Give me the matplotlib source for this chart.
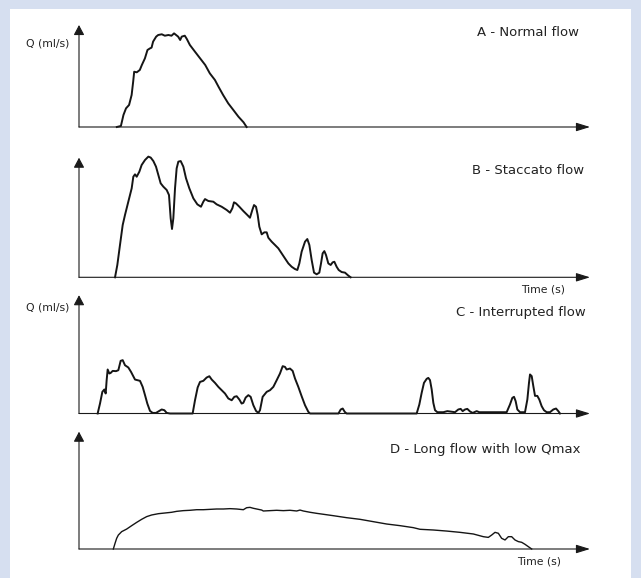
import matplotlib
matplotlib.use("Agg")
import matplotlib.pyplot as plt
from matplotlib.patches import Rectangle, ArrowStyle

# ---------------- data (time in arbitrary units 0-100, flow Q in % of axis height) -------------
titles = ["A - Normal flow", "B - Staccato flow", "C - Interrupted flow", "D - Long flow with low Qmax"]
y_label = "Q (ml/s)"
x_label = "Time (s)"

a_t = [7.4, 8.2, 8.7, 9.2, 9.8, 10.3, 10.6, 10.8, 11.3, 11.9, 12.3, 12.9, 13.4, 13.9, 14.2, 14.5,
       15.1, 15.5, 16.2, 16.8, 17.5, 18.1, 18.6, 19.0, 19.4, 19.8, 20.1, 20.7, 21.1, 21.7, 22.7,
       23.7, 24.7, 25.6, 26.6, 27.3, 28.2, 29.2, 30.2, 31.2, 32.2, 32.8]
a_q = [0, 1, 11.8, 18.3, 21.6, 31.4, 44.4, 54.2, 53.6, 55.9, 60.8, 67.3, 75.5, 77.1, 77.8, 83.7,
       88.6, 90.2, 90.9, 89.5, 90.2, 89.5, 91.8, 90.2, 88.6, 85.3, 88.6, 89.5, 86.3, 80.4, 73.8,
       67.3, 60.8, 52.6, 46.1, 39.5, 31.4, 23.2, 16.7, 10.1, 4.6, 0]

b_t = [7.05, 7.50, 8.02, 8.55, 9.00, 9.65, 10.31, 10.63, 10.96, 11.29, 11.81, 12.26, 12.92, 13.57,
       14.03, 14.55, 15.07, 15.53, 15.98, 16.50, 17.16, 17.61, 17.94, 18.20, 18.46, 18.79, 19.11,
       19.44, 19.90, 20.42, 20.94, 21.59, 22.38, 23.16, 23.87, 24.33, 24.66, 25.31, 26.29, 26.94,
       27.92, 28.90, 29.55, 30.01, 30.33, 30.72, 31.38, 32.16, 32.94, 33.46, 33.92, 34.25, 34.64,
       34.97, 35.29, 35.75, 36.27, 36.73, 37.05, 37.70, 38.36, 39.01, 39.66, 40.31, 40.97, 41.62,
       42.27, 42.73, 43.12, 43.57, 44.23, 44.68, 45.08, 45.53, 45.99, 46.51, 47.03, 47.36, 47.68,
       48.01, 48.34, 48.79, 49.25, 49.64, 49.97, 50.42, 50.82, 51.40, 52.05, 52.71, 53.16]
b_q = [0, 10.3, 27.0, 43.7, 52.1, 63.2, 74.4, 84.1, 86.1, 84.1, 88.3, 93.9, 98.1, 100.9, 100.1,
       97.2, 92.5, 85.5, 78.6, 75.8, 73.0, 68.8, 49.3, 40.4, 49.3, 74.4, 91.1, 96.7, 97.2, 92.5,
       82.8, 74.4, 66.0, 61.0, 59.0, 63.2, 65.4, 63.8, 63.2, 61.0, 59.0, 56.3, 54.0, 57.7, 62.7,
       61.8, 59.0, 55.4, 52.1, 49.8, 56.3, 60.4, 59.0, 52.1, 42.3, 35.9, 37.6, 37.6, 33.1, 29.8,
       27.0, 24.2, 20.0, 15.8, 11.6, 8.8, 6.9, 6.1, 11.6, 21.4, 29.8, 32.0, 27.0, 14.5, 3.9, 2.5,
       3.9, 11.6, 20.0, 21.9, 18.6, 11.6, 10.3, 12.5, 13.0, 8.8, 6.1, 4.4, 3.9, 1.4, 0]

c_t = [3.65, 4.11, 4.57, 4.96, 5.22, 5.41, 5.61, 5.94, 6.20, 6.59, 7.24, 7.70, 8.15, 8.55, 9.00,
       9.65, 10.18, 10.96, 11.94, 12.46, 12.92, 13.37, 13.89, 14.42, 15.07, 15.72, 16.18, 16.70,
       17.16, 17.81, 22.24, 22.70, 23.22, 23.68, 24.33, 24.98, 25.51, 25.97, 26.61, 27.27, 27.92,
       28.57, 29.22, 29.88, 30.40, 30.86, 31.38, 31.83, 32.16, 32.62, 33.14, 33.59, 34.12, 34.64,
       35.10, 35.42, 35.94, 36.73, 37.38, 38.03, 38.68, 39.33, 39.86, 40.31, 40.64, 41.29, 41.81,
       42.27, 42.92, 43.57, 44.23, 44.88, 45.21, 50.77, 51.22, 51.61, 52.00, 52.37,
       66.08, 66.60, 67.06, 67.51, 68.04, 68.36, 68.69, 69.02, 69.34, 69.67, 70.13, 71.30, 72.08,
       72.60, 73.58, 74.23, 74.69, 75.08, 75.54, 75.99, 76.52, 77.04, 77.82, 78.34, 83.69, 84.34,
       84.80, 85.13, 85.45, 85.78, 86.30, 87.28, 87.74, 88.06, 88.26, 88.59, 88.91, 89.24, 89.69,
       90.08, 90.54, 90.99, 91.52, 92.17, 92.82, 93.35, 93.80, 94.13]
c_q = [0, 8.4, 18.3, 20.3, 16.9, 28.1, 37.2, 33.8, 34.3, 36.0, 35.8, 36.6, 44.5, 45.1, 40.8,
       38.9, 35.2, 28.7, 27.6, 22.5, 15.5, 8.4, 2.2, 0.5, 0.5, 2.2, 3.4, 2.8, 0.5, 0, 0, 11.2,
       22.0, 26.7, 27.6, 30.4, 31.5, 28.7, 25.9, 22.5, 19.7, 16.9, 12.7, 11.2, 14.1, 14.6, 11.8,
       8.4, 9.0, 13.5, 15.5, 14.1, 7.0, 2.2, 0.5, 2.8, 14.1, 18.3, 19.7, 22.5, 28.1, 33.8, 40.0,
       39.4, 37.2, 38.0, 36.0, 29.6, 22.5, 14.6, 7.0, 1.4, 0, 0, 3.4, 4.2, 1.4, 0,
       0, 7.6, 17.5, 25.9, 29.3, 30.1, 28.2, 20.3, 9.0, 2.8, 1.1, 1.1, 2.0, 1.7, 1.1, 3.4, 3.9,
       2.0, 3.4, 3.9, 1.7, 0.5, 2.0, 1.1, 1.1, 7.6, 13.2, 14.1, 10.4, 3.4, 1.1, 1.1, 11.8, 25.9,
       33.0, 31.6, 23.1, 14.9, 14.9, 11.8, 6.2, 2.8, 1.1, 1.1, 3.4, 4.2, 2.0, 0]

d_t = [6.72, 7.05, 7.37, 7.70, 8.35, 9.33, 10.31, 11.29, 12.26, 13.24, 14.22, 15.53, 16.83, 18.13,
       19.11, 20.42, 21.72, 23.03, 24.33, 25.64, 26.94, 28.25, 29.55, 30.86, 32.16, 32.81, 33.46,
       34.12, 34.77, 35.75, 36.07, 37.38, 38.68, 39.99, 41.29, 42.60, 43.25, 43.90, 45.21, 46.51,
       47.82, 49.77, 52.38, 54.99, 57.60, 60.21, 62.82, 65.43, 66.73, 69.34, 71.95, 74.56, 77.17,
       79.13, 80.10, 80.76, 81.41, 82.06, 82.71, 83.37, 84.02, 84.67, 85.32, 85.98, 86.63, 87.28,
       87.93, 88.59]
d_q = [0, 4.8, 9.1, 11.9, 14.8, 17.0, 19.9, 22.7, 25.3, 27.6, 29.0, 30.1, 30.7, 31.3, 32.1, 32.7,
       33.0, 33.5, 33.5, 33.8, 34.1, 34.1, 34.4, 34.1, 33.5, 35.2, 35.5, 34.7, 34.1, 33.2, 32.4,
       32.7, 33.0, 32.7, 33.0, 32.4, 33.2, 32.4, 31.3, 30.4, 29.6, 28.4, 26.7, 25.3, 23.3, 21.3,
       19.9, 18.2, 16.8, 16.2, 15.3, 14.2, 12.8, 10.5, 9.9, 11.9, 14.2, 13.4, 9.1, 7.7, 10.5,
       10.5, 7.7, 6.3, 5.7, 4.0, 2.0, 0]

# ---------------- layout ----------------
W, H = 641, 578
fig = plt.figure(figsize=(W / 100, H / 100), dpi=100)
fig.patch.set_facecolor("#d6dff0")
fig.add_artist(Rectangle((10 / W, 0), (W - 20) / W, (H - 9) / H, transform=fig.transFigure,
                         facecolor="white", edgecolor="none", zorder=-5))

panels = [
    (a_t, a_q, 25.0, 127.0, 1.4),
    (b_t, b_q, 157.7, 277.3, 1.4),
    (c_t, c_q, 295.2, 413.5, 1.4),
    (d_t, d_q, 431.7, 549.0, 1.0),
]
x0, x1 = 79.0, 590.0
axis_col = "#1a1a1a"
line_col = "#151515"

for t, q, ytop, ybot, lw in panels:
    ax = fig.add_axes([x0 / W, 1 - ybot / H, (x1 - x0) / W, (ybot - ytop) / H])
    ax.set_xlim(0, 100)
    ax.set_ylim(0, 100)
    ax.axis("off")
    ax.plot(t, q, color=line_col, lw=lw, solid_joinstyle="round", clip_on=False, zorder=3)
    ax.annotate("", xy=(1, 0), xytext=(0, 0), xycoords="axes fraction",
                arrowprops=dict(arrowstyle=ArrowStyle("-|>", head_length=0.42, head_width=0.13),
                                mutation_scale=20, lw=0.8, color=axis_col,
                                shrinkA=0, shrinkB=0))
    ax.annotate("", xy=(0, 1), xytext=(0, 0), xycoords="axes fraction",
                arrowprops=dict(arrowstyle=ArrowStyle("-|>", head_length=0.3, head_width=0.16),
                                mutation_scale=20, lw=0.8, color=axis_col,
                                shrinkA=0, shrinkB=0))


def ftext(x, y, s, **kw):
    fig.text(x / W, 1 - y / H, s, color="#222222", family="DejaVu Sans", **kw)


ftext(69, 43, y_label, ha="right", va="center", fontsize=7.8)
ftext(69, 308, y_label, ha="right", va="center", fontsize=7.8)
ftext(579, 32, titles[0], ha="right", va="center", fontsize=9.5)
ftext(584, 170, titles[1], ha="right", va="center", fontsize=9.5)
ftext(586, 312, titles[2], ha="right", va="center", fontsize=9.5)
ftext(581, 450, titles[3], ha="right", va="center", fontsize=9.5)
ftext(543, 289, x_label, ha="center", va="center", fontsize=7.8)
ftext(539, 561, x_label, ha="center", va="center", fontsize=7.8)

fig.savefig("out.png", dpi=100, facecolor=fig.get_facecolor())
